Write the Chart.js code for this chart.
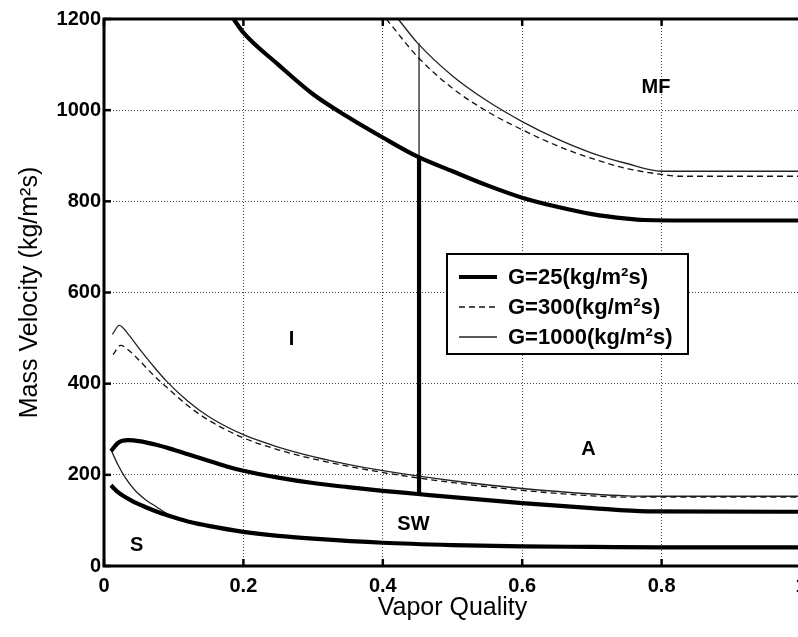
<!DOCTYPE html>
<html><head><meta charset="utf-8">
<script src="https://cdn.jsdelivr.net/npm/chart.js@4.4.0/dist/chart.umd.min.js"></script>
<style>html,body{margin:0;padding:0;background:#fff;overflow:hidden}
#wrap{width:798px;height:637px;overflow:hidden;position:relative;background:#fff}
canvas{display:block}</style></head>
<body><div id="wrap"><canvas id="c" width="806" height="637"></canvas></div>
<script>
// ---- tick labels & texts ----
const xTickLabels = ['0', '0.2', '0.4', '0.6', '0.8', '1'];
const yTickLabels = ['0', '200', '400', '600', '800', '1000', '1200'];
const legendLabels = ['G=25(kg/m²s)', 'G=300(kg/m²s)', 'G=1000(kg/m²s)'];
const regionLabels = ['MF', 'I', 'A', 'SW', 'S'];
const regionQuality = [0.792, 0.269, 0.695, 0.444, 0.047];
const regionMass = [1049, 496, 255, 90, 46];

// ---- G = 25 kg/m2s (thick) ----
const g25MfX = [0.186, 0.2, 0.25, 0.3, 0.35, 0.4, 0.45, 0.5, 0.55, 0.6, 0.65, 0.7, 0.75, 0.775, 0.85, 1.0];
const g25MfY = [1200, 1170, 1100, 1035, 985, 940, 898, 866, 835, 808, 788, 772, 762, 759, 758, 758];
const g25IaX = [0.01, 0.02, 0.035, 0.05, 0.075, 0.1, 0.125, 0.15, 0.175, 0.2, 0.25, 0.3, 0.35, 0.4, 0.45, 0.5, 0.6, 0.7, 0.78, 1.0];
const g25IaY = [252, 270, 276, 274, 266, 255, 243, 231, 219, 209, 194, 182, 173, 165, 158, 151, 138, 127, 120, 119];
const g25SwX = [0.01, 0.02, 0.04, 0.06, 0.08, 0.1, 0.125, 0.15, 0.2, 0.25, 0.3, 0.4, 0.5, 0.6, 0.7, 0.8, 1.0];
const g25SwY = [177, 162, 143, 129, 117, 107, 96, 88, 75, 66, 60, 51, 46, 43, 42, 41, 41];
const g25VertX = [0.452, 0.452];
const g25VertY = [158, 898];

// ---- G = 300 kg/m2s (dashed) ----
const g300MfX = [0.405, 0.45, 0.5, 0.55, 0.6, 0.65, 0.7, 0.75, 0.8, 0.825, 1.0];
const g300MfY = [1200, 1117, 1048, 997, 957, 922, 894, 872, 859, 855, 855];
const g300IaX = [0.013, 0.024, 0.035, 0.05, 0.07, 0.09, 0.12, 0.15, 0.2, 0.25, 0.3, 0.35, 0.4, 0.5, 0.6, 0.7, 0.75, 1.0];
const g300IaY = [464, 484, 474, 452, 420, 392, 352, 320, 281, 255, 235, 219, 205, 183, 166, 154, 151, 151];

// ---- G = 1000 kg/m2s (thin) ----
const g1000MfX = [0.422, 0.45, 0.5, 0.55, 0.6, 0.65, 0.7, 0.75, 0.8, 1.0];
const g1000MfY = [1200, 1147, 1075, 1020, 975, 937, 906, 883, 866, 866];
const g1000IaX = [0.012, 0.022, 0.035, 0.05, 0.07, 0.09, 0.12, 0.15, 0.2, 0.25, 0.3, 0.35, 0.4, 0.5, 0.6, 0.7, 0.75, 0.8, 1.0];
const g1000IaY = [508, 528, 508, 478, 440, 405, 362, 328, 288, 261, 240, 223, 209, 187, 170, 158, 154, 153, 153];
const g1000SX = [0.01, 0.02, 0.03, 0.045, 0.06, 0.075, 0.09, 0.1];
const g1000SY = [255, 222, 195, 165, 145, 130, 115, 107];
const g1000VertX = [0.452, 0.452];
const g1000VertY = [898, 1147];

const styles = {
  25: { borderColor: '#000', borderWidth: 4.2, borderDash: [] },
  300: { borderColor: '#111', borderWidth: 1.3, borderDash: [6, 4] },
  1000: { borderColor: '#222', borderWidth: 1.3, borderDash: [] }
};

function pts(xs, ys) { return xs.map((x, i) => ({ x: x, y: ys[i] })); }
function ds(xs, ys, g, smooth) {
  return Object.assign({
    data: pts(xs, ys), showLine: true, pointRadius: 0, fill: false,
    cubicInterpolationMode: smooth ? 'monotone' : 'default', tension: 0,
    borderCapStyle: 'butt', clip: 2
  }, styles[g]);
}

const datasets = [
  ds(g25MfX, g25MfY, 25, true),
  ds(g25IaX, g25IaY, 25, true),
  ds(g25SwX, g25SwY, 25, true),
  ds(g25VertX, g25VertY, 25, false),
  ds(g300MfX, g300MfY, 300, true),
  ds(g300IaX, g300IaY, 300, true),
  ds(g1000MfX, g1000MfY, 1000, true),
  ds(g1000IaX, g1000IaY, 1000, true),
  ds(g1000SX, g1000SY, 1000, true),
  ds(g1000VertX, g1000VertY, 1000, false)
];

const FONT = '"Liberation Sans", Arial, Helvetica, sans-serif';

const decor = {
  id: 'decor',
  afterDatasetsDraw(chart) {
    const ctx = chart.ctx, a = chart.chartArea;
    const xs = chart.scales.x, ys = chart.scales.y;
    ctx.save();
    // inward tick marks
    ctx.strokeStyle = '#000'; ctx.lineWidth = 2.5;
    xs.ticks.forEach(t => {
      const px = xs.getPixelForValue(t.value);
      ctx.beginPath(); ctx.moveTo(px, a.bottom); ctx.lineTo(px, a.bottom - 7); ctx.stroke();
      ctx.beginPath(); ctx.moveTo(px, a.top); ctx.lineTo(px, a.top + 7); ctx.stroke();
    });
    ys.ticks.forEach(t => {
      const py = ys.getPixelForValue(t.value);
      ctx.beginPath(); ctx.moveTo(a.left, py); ctx.lineTo(a.left + 7, py); ctx.stroke();
    });
    // frame
    ctx.lineWidth = 3;
    ctx.strokeRect(a.left, a.top, a.right - a.left, a.bottom - a.top);
    // region labels
    ctx.fillStyle = '#000';
    ctx.font = 'bold 20px ' + FONT;
    ctx.textAlign = 'center'; ctx.textBaseline = 'middle';
    regionLabels.forEach((s, i) => {
      ctx.fillText(s, xs.getPixelForValue(regionQuality[i]), ys.getPixelForValue(regionMass[i]));
    });
    // legend
    const L = 447, T = 254, W = 241, H = 100;
    ctx.fillStyle = '#fff'; ctx.fillRect(L, T, W, H);
    ctx.strokeStyle = '#000'; ctx.lineWidth = 2; ctx.strokeRect(L, T, W, H);
    const gs = [25, 300, 1000];
    legendLabels.forEach((s, i) => {
      const y = T + 23 + i * 30;
      const st = styles[gs[i]];
      ctx.strokeStyle = st.borderColor; ctx.lineWidth = st.borderWidth;
      ctx.setLineDash(st.borderDash);
      ctx.beginPath(); ctx.moveTo(L + 12, y); ctx.lineTo(L + 50, y); ctx.stroke();
      ctx.setLineDash([]);
      ctx.fillStyle = '#000';
      ctx.font = 'bold 22px ' + FONT;
      ctx.textAlign = 'left'; ctx.textBaseline = 'middle';
      ctx.fillText(s, L + 61, y + 1);
    });
    ctx.restore();
  }
};

new Chart(document.getElementById('c'), {
  type: 'scatter',
  data: { datasets: datasets },
  plugins: [decor],
  options: {
    responsive: false, animation: false, devicePixelRatio: 1,
    layout: { padding: { top: 19, right: 5, bottom: 0, left: 0 } },
    plugins: { legend: { display: false }, tooltip: { enabled: false }, title: { display: false } },
    scales: {
      x: {
        type: 'linear', min: 0, max: 1,
        afterFit(s) { s.height = 71; s.paddingLeft = 0; s.paddingRight = 0; },
        ticks: { stepSize: 0.2, padding: 8, color: '#000', font: { family: FONT, size: 20, weight: 'bold' },
          maxRotation: 0, callback: (v, i) => xTickLabels[i] },
        grid: { color: '#444', lineWidth: 1, drawTicks: false },
        border: { display: false, dash: [1, 2] },
        title: { display: true, text: 'Vapor Quality', color: '#000', font: { family: FONT, size: 25 }, padding: { top: 0, bottom: 14 } }
      },
      y: {
        type: 'linear', min: 0, max: 1200,
        afterFit(s) { s.width = 104; s.paddingTop = 0; s.paddingBottom = 0; },
        ticks: { stepSize: 200, padding: 3, color: '#000', font: { family: FONT, size: 20, weight: 'bold' },
          callback: (v, i) => yTickLabels[i] },
        grid: { color: '#444', lineWidth: 1, drawTicks: false },
        border: { display: false, dash: [1, 2] },
        title: { display: true, text: 'Mass Velocity (kg/m²s)', color: '#000', font: { family: FONT, size: 25 }, padding: { top: 15, bottom: 0 } }
      }
    }
  }
});
</script></body></html>
